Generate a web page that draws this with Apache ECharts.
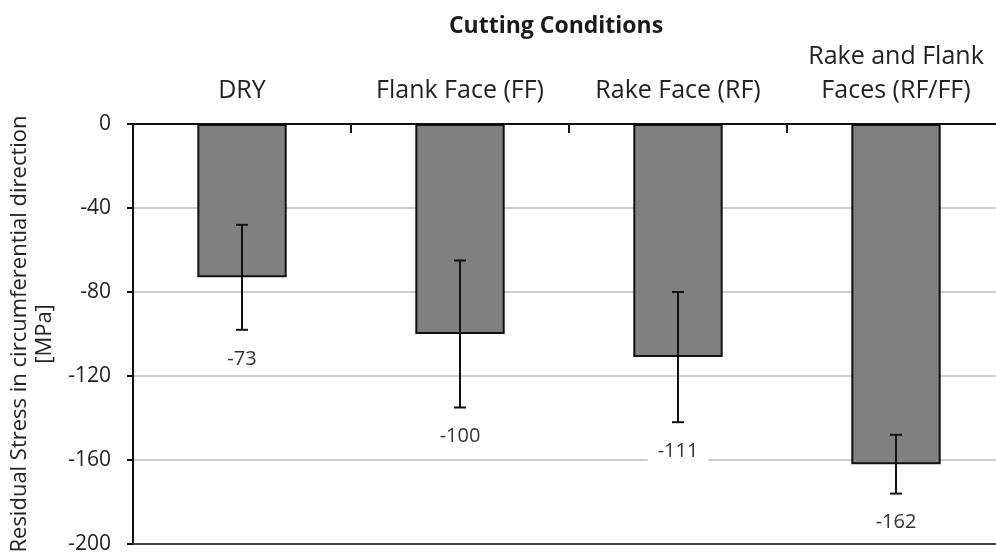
<!DOCTYPE html>
<html><head><meta charset="utf-8">
<script src="https://cdn.jsdelivr.net/npm/echarts@6/dist/echarts.min.js"></script>
<style>html,body{margin:0;padding:0;background:#fff}#c{width:996px;height:560px}</style>
</head><body><div id="c"></div>
<script>
const categories = ['DRY', 'Flank Face (FF)', 'Rake Face (RF)', 'Rake and Flank\nFaces (RF/FF)'];
const meanValues = [-73, -100, -111, -162];
const errorHigh = [-48, -65, -80, -148];
const errorLow = [-98, -135, -142, -176];
const yTicks = [0, -40, -80, -120, -160, -200];

const FONT = 'Open Sans';
const chart = echarts.init(document.getElementById('c'));
const errData = categories.map((c, i) => [i, errorLow[i], errorHigh[i], meanValues[i]]);

chart.setOption({
  animation: false,
  title: {
    text: 'Cutting Conditions', left: 551, top: 10, textAlign: 'center',
    textStyle: { fontFamily: FONT, fontWeight: 'bold', fontSize: 23, color: '#1a1a1a' }
  },
  grid: { left: 133, top: 124, width: 872, height: 420, containLabel: false, outerBoundsMode: 'none' },
  xAxis: [{
    type: 'category', data: categories, position: 'top',
    axisLine: { lineStyle: { color: '#111', width: 2 } },
    axisTick: { show: true, inside: true, length: 9, lineStyle: { color: '#111', width: 2 } },
    axisLabel: { fontFamily: FONT, fontSize: 25, color: '#222', margin: 16, lineHeight: 34, interval: 0 },
    splitLine: { show: false }
  }, {
    type: 'category', data: categories, position: 'bottom',
    axisLine: { show: true, onZero: false, lineStyle: { color: '#444', width: 2 } },
    axisTick: { show: false }, axisLabel: { show: false }
  }],
  yAxis: {
    type: 'value', min: -200, max: 0, interval: 40,
    name: 'Residual Stress in circumferential direction\n[MPa]',
    nameLocation: 'middle', nameGap: 75, nameRotate: 90,
    nameTextStyle: { fontFamily: FONT, fontSize: 22, color: '#222', lineHeight: 25 },
    axisLine: { show: true, lineStyle: { color: '#111', width: 2 } },
    axisTick: { show: true, length: 6, lineStyle: { color: '#111', width: 2 } },
    axisLabel: { fontFamily: FONT, fontSize: 21, color: '#222', margin: 22,
      customValues: yTicks },
    splitLine: { lineStyle: { color: '#bdbdbd', width: 1.5 } }
  },
  series: [{
    type: 'bar', data: meanValues, barWidth: '41%',
    itemStyle: { color: '#808080', borderColor: '#111', borderWidth: 2 }
  }, {
    type: 'custom', data: errData, z: 5,
    renderItem: function (params, api) {
      const i = api.value(0);
      const lo = api.coord([i, api.value(1)]);
      const hi = api.coord([i, api.value(2)]);
      const cap = 6;
      const ls = { stroke: '#111', lineWidth: 2 };
      return {
        type: 'group', children: [
          { type: 'line', shape: { x1: hi[0], y1: hi[1], x2: lo[0], y2: lo[1] }, style: ls },
          { type: 'line', shape: { x1: hi[0] - cap, y1: hi[1], x2: hi[0] + cap, y2: hi[1] }, style: ls },
          { type: 'line', shape: { x1: lo[0] - cap, y1: lo[1], x2: lo[0] + cap, y2: lo[1] }, style: ls },
          { type: 'text', style: {
              text: String(api.value(3)), x: lo[0], y: lo[1] + 29,
              align: 'center', verticalAlign: 'middle',
              fill: '#333', font: '20px "' + FONT + '"',
              backgroundColor: '#fff', padding: [2, 10]
          } }
        ]
      };
    }
  }]
});
</script></body></html>
